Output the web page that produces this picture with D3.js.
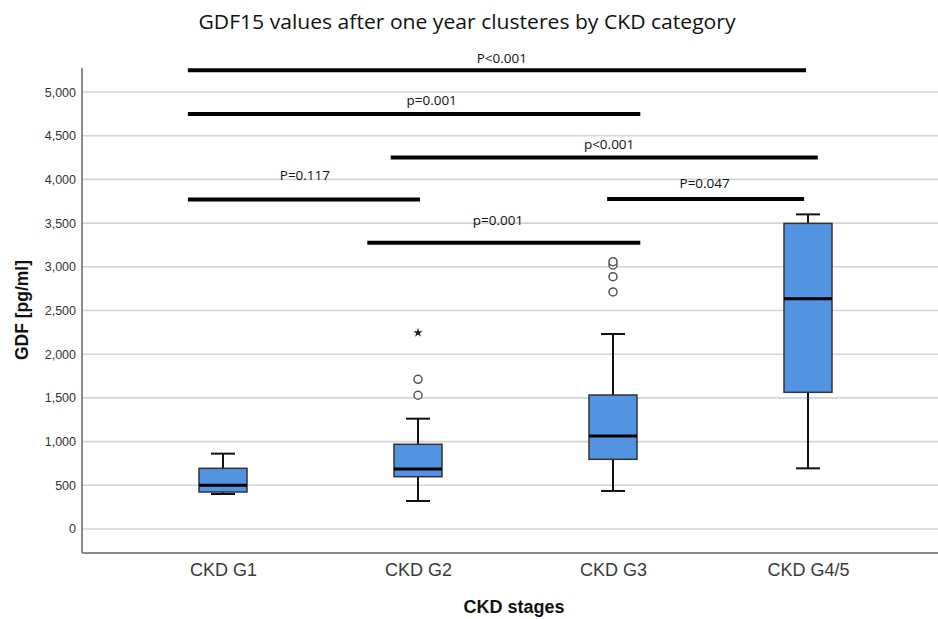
<!DOCTYPE html>
<html>
<head>
<meta charset="utf-8">
<script src="https://cdn.jsdelivr.net/npm/d3@7"></script>
<style>
  html, body { margin: 0; padding: 0; background: #fff; }
  svg { display: block; }
</style>
</head>
<body>
<svg id="chart" width="938" height="619"></svg>
<script>
// CKD stage groups and their box-plot summaries (GDF15, pg/ml)
const categories = ["CKD G1", "CKD G2", "CKD G3", "CKD G4/5"];
const whiskerLow  = [400, 320, 435, 694];
const quartile1   = [423, 598, 797, 1564];
const medians     = [500, 686, 1064, 2635];
const quartile3   = [694, 969, 1533, 3497];
const whiskerHigh = [862, 1262, 2231, 3600];

// individual points beyond the whiskers
const outlierGroup  = ["CKD G2", "CKD G2", "CKD G3", "CKD G3", "CKD G3", "CKD G3"];
const outlierValues = [1530, 1713, 2712, 2887, 3021, 3059];
const extremeGroup  = ["CKD G2"];
const extremeValues = [2246];

const yTicks = [0, 500, 1000, 1500, 2000, 2500, 3000, 3500, 4000, 4500, 5000];

// pairwise comparisons: bracket span in group-index units, height in pg/ml
const compLabels = ["P<0.001", "p=0.001", "p<0.001", "P=0.117", "P=0.047", "p=0.001"];
const compFrom   = [-0.18, -0.18, 0.86, -0.18, 1.97, 0.74];
const compTo     = [2.99, 2.14, 3.05, 1.01, 2.98, 2.14];
const compLevel  = [5250, 4750, 4250, 3770, 3775, 3275];
const compLabelAt = [1.43, 1.07, 1.98, 0.42, 2.47, 1.41];

const svg = d3.select("#chart");
const plotLeft = 82, plotRight = 938, plotTop = 68, plotBottom = 553;

const y = d3.scaleLinear().domain([-275, 5275]).range([plotBottom, plotTop]);
const x = d3.scalePoint().domain(categories).range([223, 808]);
const xi = d3.scaleLinear().domain([0, categories.length - 1])
  .range([x(categories[0]), x(categories[categories.length - 1])]);

// title
svg.append("text")
  .attr("x", 467).attr("y", 29)
  .attr("text-anchor", "middle")
  .attr("font-family", "'Open Sans', sans-serif")
  .attr("font-size", 19.5)
  .attr("fill", "#111")
  .attr("textLength", 537)
  .attr("lengthAdjust", "spacingAndGlyphs")
  .text("GDF15 values after one year clusteres by CKD category");

// horizontal gridlines
svg.append("g").selectAll("line").data(yTicks).join("line")
  .attr("x1", plotLeft).attr("x2", plotRight)
  .attr("y1", d => y(d)).attr("y2", d => y(d))
  .attr("stroke", "#d4d4d4").attr("stroke-width", 1.6);

// y axis
const yAxis = svg.append("g")
  .attr("transform", `translate(${plotLeft},0)`)
  .call(d3.axisLeft(y).tickValues(yTicks).tickSize(0).tickPadding(6)
    .tickFormat(d3.format(",")));
yAxis.select(".domain").remove();
yAxis.selectAll("text")
  .attr("font-family", "'Liberation Sans', Arial, sans-serif")
  .attr("font-size", 12.5).attr("fill", "#333");
svg.append("line")
  .attr("x1", plotLeft).attr("x2", plotLeft).attr("y1", plotTop).attr("y2", plotBottom)
  .attr("stroke", "#8a8a8a").attr("stroke-width", 2);

// x axis
const xAxis = svg.append("g")
  .attr("transform", `translate(0,${plotBottom})`)
  .call(d3.axisBottom(x).tickSize(0).tickPadding(10));
xAxis.select(".domain").remove();
xAxis.selectAll("text")
  .attr("font-family", "'Liberation Sans', Arial, sans-serif")
  .attr("font-size", 18).attr("fill", "#3a3a3a");
svg.append("line")
  .attr("x1", plotLeft).attr("x2", plotRight).attr("y1", plotBottom).attr("y2", plotBottom)
  .attr("stroke", "#8a8a8a").attr("stroke-width", 2);

// axis titles
svg.append("text")
  .attr("x", 514).attr("y", 613)
  .attr("text-anchor", "middle")
  .attr("font-family", "'Liberation Sans', Arial, sans-serif")
  .attr("font-weight", "bold").attr("font-size", 18).attr("fill", "#111")
  .text("CKD stages");
svg.append("text")
  .attr("transform", "translate(28,310) rotate(-90)")
  .attr("text-anchor", "middle")
  .attr("font-family", "'Liberation Sans', Arial, sans-serif")
  .attr("font-weight", "bold").attr("font-size", 17.5).attr("fill", "#111")
  .text("GDF [pg/ml]");

// box plots
const boxW = 48, capW = 24;
const boxes = categories.map((c, i) => ({
  c, lo: whiskerLow[i], q1: quartile1[i], med: medians[i], q3: quartile3[i], hi: whiskerHigh[i]
}));
const g = svg.append("g").selectAll("g").data(boxes).join("g")
  .attr("transform", d => `translate(${x(d.c)},0)`);

g.append("line")
  .attr("y1", d => y(d.hi)).attr("y2", d => y(d.q3))
  .attr("stroke", "#111").attr("stroke-width", 2);
g.append("line")
  .attr("y1", d => y(d.q1)).attr("y2", d => y(d.lo))
  .attr("stroke", "#111").attr("stroke-width", 2);
g.append("line")
  .attr("x1", -capW / 2).attr("x2", capW / 2)
  .attr("y1", d => y(d.hi)).attr("y2", d => y(d.hi))
  .attr("stroke", "#111").attr("stroke-width", 2);
g.append("line")
  .attr("x1", -capW / 2).attr("x2", capW / 2)
  .attr("y1", d => y(d.lo)).attr("y2", d => y(d.lo))
  .attr("stroke", "#111").attr("stroke-width", 2);
g.append("rect")
  .attr("x", -boxW / 2).attr("width", boxW)
  .attr("y", d => y(d.q3)).attr("height", d => y(d.q1) - y(d.q3))
  .attr("fill", "#5294e2").attr("stroke", "#333").attr("stroke-width", 1.5);
g.append("line")
  .attr("x1", -boxW / 2).attr("x2", boxW / 2)
  .attr("y1", d => y(d.med)).attr("y2", d => y(d.med))
  .attr("stroke", "#000").attr("stroke-width", 3);

// outliers (open circles) and extremes (stars)
svg.append("g").selectAll("circle").data(outlierValues).join("circle")
  .attr("cx", (d, i) => x(outlierGroup[i]))
  .attr("cy", d => y(d))
  .attr("r", 4)
  .attr("fill", "#fff").attr("stroke", "#555").attr("stroke-width", 1.5);
svg.append("g").selectAll("path").data(extremeValues).join("path")
  .attr("transform", (d, i) => `translate(${x(extremeGroup[i])},${y(d)})`)
  .attr("d", d3.symbol(d3.symbolStar, 28))
  .attr("fill", "#222");

// significance brackets
const comps = compLabels.map((t, i) => ({
  t, a: compFrom[i], b: compTo[i], v: compLevel[i], at: compLabelAt[i]
}));
const cg = svg.append("g");
cg.selectAll("line").data(comps).join("line")
  .attr("x1", d => xi(d.a)).attr("x2", d => xi(d.b))
  .attr("y1", d => y(d.v)).attr("y2", d => y(d.v))
  .attr("stroke", "#000").attr("stroke-width", 4);
const labelGap = [7, 9, 9, 20, 11, 18];
cg.selectAll("text").data(comps).join("text")
  .attr("x", d => xi(d.at))
  .attr("y", (d, i) => y(d.v) - labelGap[i])
  .attr("text-anchor", "middle")
  .attr("font-family", "'Open Sans', sans-serif")
  .attr("font-size", 13.5).attr("fill", "#111")
  .text(d => d.t);
</script>
</body>
</html>
